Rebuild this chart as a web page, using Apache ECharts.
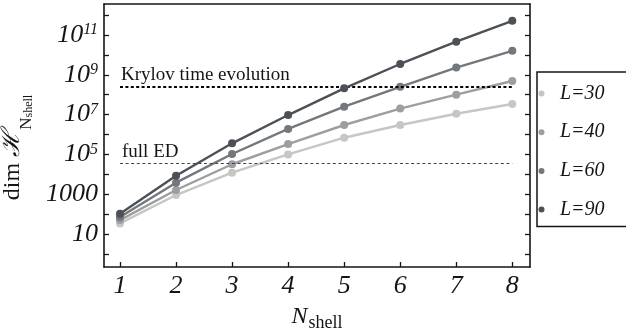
<!DOCTYPE html>
<html>
<head>
<meta charset="utf-8">
<script src="https://cdn.jsdelivr.net/npm/echarts@6/dist/echarts.min.js"></script>
<style>
  html, body { margin: 0; padding: 0; background: #fff; }
  #chart { width: 626px; height: 335px; }
</style>
</head>
<body>
<div id="chart"></div>
<script>
// Hilbert-space dimension per number of shells, for several system sizes L
const nShell = [1, 2, 3, 4, 5, 6, 7, 8];
const dimL30 = [34, 910, 1.2e4, 1.0e5, 6.9e5, 3.0e6, 1.1e7, 3.4e7];
const dimL40 = [50, 1630, 3.2e4, 3.3e5, 3.0e6, 2.0e7, 1.0e8, 4.9e8];
const dimL60 = [71, 3800, 1.05e5, 1.9e6, 2.5e7, 2.5e8, 2.3e9, 1.6e10];
const dimL90 = [105, 8500, 3.6e5, 9.5e6, 2.1e8, 3.5e9, 4.6e10, 5.2e11];

const seriesNames = ['L=30', 'L=40', 'L=60', 'L=90'];
const seriesColors = ['#c6c7c2', '#9c9e9f', '#72787d', '#4b5157'];

// reachable sizes for the two numerical methods
const krylovLimit = 2.6e8;
const fullEdLimit = 3.5e4;

// y ticks at every decade, labels at odd decades
const yTickValues = [1, 1e1, 1e2, 1e3, 1e4, 1e5, 1e6, 1e7, 1e8, 1e9, 1e10, 1e11, 1e12];
const yLabelValues = [1e1, 1e3, 1e5, 1e7, 1e9, 1e11];
const xTickValues = [1, 2, 3, 4, 5, 6, 7, 8];

const SERIF = '"Liberation Serif", "DejaVu Serif", serif';
const INK = '#151515';

const yMin = Math.pow(10, -0.658);
const yMax = Math.pow(10, 12.558);

function powLabel(v) {
  const e = Math.round(Math.log10(v));
  if (e <= 3) return String(Math.round(v));
  return '{b|10}{s|' + e + '}';
}

const dataSets = [dimL30, dimL40, dimL60, dimL90];
const lineSeries = dataSets.map((d, i) => ({
  name: seriesNames[i],
  type: 'line',
  data: nShell.map((n, k) => [n, d[k]]),
  symbol: 'circle',
  symbolSize: 8,
  itemStyle: { color: seriesColors[i] },
  lineStyle: { color: seriesColors[i], width: 2.4 },
  z: 2 + i
}));

const refSeries = {
  name: 'limits',
  type: 'line',
  data: [],
  z: 10,
  markLine: {
    silent: true,
    symbol: ['none', 'none'],
    animation: false,
    data: [
      [
        { coord: [nShell[0], krylovLimit], lineStyle: { color: '#000', width: 2, type: [3, 2.4] },
          label: { show: true, formatter: 'Krylov time evolution', position: 'insideStartTop',
                   distance: [1, 1.5], fontFamily: SERIF, fontSize: 19, color: INK } },
        { coord: [nShell[nShell.length - 1], krylovLimit] }
      ],
      [
        { coord: [nShell[0], fullEdLimit], lineStyle: { color: '#444', width: 1, type: [3, 2.6] },
          label: { show: true, formatter: 'full ED', position: 'insideStartTop',
                   distance: [2, 1.5], fontFamily: SERIF, fontSize: 19, color: INK } },
        { coord: [nShell[nShell.length - 1], fullEdLimit] }
      ]
    ]
  }
};

const frameLine = { show: true, lineStyle: { color: INK, width: 1.6 } };
const tickStyle = { show: true, inside: true, length: 5, lineStyle: { color: INK, width: 1.3 } };

const option = {
  animation: false,
  backgroundColor: '#fff',
  grid: { left: 104, top: 4, right: 96, bottom: 68, containLabel: false, outerBoundsMode: 'none' },
  legend: {
    data: seriesNames,
    orient: 'vertical',
    left: 537,
    top: 72,
    icon: 'circle',
    itemWidth: 27,
    itemHeight: 6,
    itemGap: 18.7,
    padding: [11.5, 80, 7, 1.5],
    borderColor: INK,
    borderWidth: 1.5,
    textStyle: { fontFamily: SERIF, fontStyle: 'italic', fontSize: 20, color: INK, lineHeight: 20 }
  },
  xAxis: [
    {
      type: 'value', min: 0.7145, max: 8.316, position: 'bottom',
      axisLine: frameLine,
      axisTick: Object.assign({ customValues: xTickValues }, tickStyle),
      axisLabel: { customValues: xTickValues, margin: 6, fontFamily: SERIF, fontStyle: 'italic', fontSize: 26, color: INK },
      splitLine: { show: false },
      name: '{n|N}{s|shell}', nameLocation: 'middle', nameGap: 35,
      nameTextStyle: {
        rich: {
          n: { fontFamily: SERIF, fontStyle: 'italic', fontSize: 24, color: INK },
          s: { fontFamily: SERIF, fontSize: 18, color: INK, padding: [12, 0, 0, 1] }
        }
      }
    },
    {
      type: 'value', min: 0.7145, max: 8.316, position: 'top',
      axisLine: frameLine, axisTick: { show: false }, axisLabel: { show: false }, splitLine: { show: false }
    }
  ],
  yAxis: [
    {
      type: 'log', logBase: 10, min: yMin, max: yMax, position: 'left',
      axisLine: frameLine,
      axisTick: Object.assign({ customValues: yTickValues }, tickStyle),
      axisLabel: {
        customValues: yLabelValues, margin: 6, formatter: powLabel,
        fontFamily: SERIF, fontStyle: 'italic', fontSize: 26, color: INK,
        rich: {
          b: { fontFamily: SERIF, fontStyle: 'italic', fontSize: 26, color: INK },
          s: { fontFamily: SERIF, fontStyle: 'italic', fontSize: 16, color: INK, padding: [0, 0, 10, 0] }
        }
      },
      splitLine: { show: false },
      name: '{d|dim }{h|ℋ}{n|N}{s|shell}', nameLocation: 'middle', nameGap: 65,
      nameTextStyle: {
        padding: [0, 24, 0, 0],
        rich: {
          d: { fontFamily: SERIF, fontSize: 24, color: INK },
          h: { fontFamily: '"DejaVu Serif", serif', fontStyle: 'italic', fontSize: 25, color: INK },
          n: { fontFamily: SERIF, fontSize: 17, color: INK, padding: [28, 0, 0, 1] },
          s: { fontFamily: SERIF, fontSize: 12, color: INK, padding: [32, 0, 0, 0] }
        }
      }
    },
    {
      type: 'log', logBase: 10, min: yMin, max: yMax, position: 'right',
      axisLine: frameLine,
      axisTick: Object.assign({ customValues: yTickValues }, tickStyle),
      axisLabel: { show: false },
      splitLine: { show: false }
    }
  ],
  series: lineSeries.concat([refSeries])
};

const chart = echarts.init(document.getElementById('chart'), null, { renderer: 'canvas' });
chart.setOption(option);
</script>
</body>
</html>
